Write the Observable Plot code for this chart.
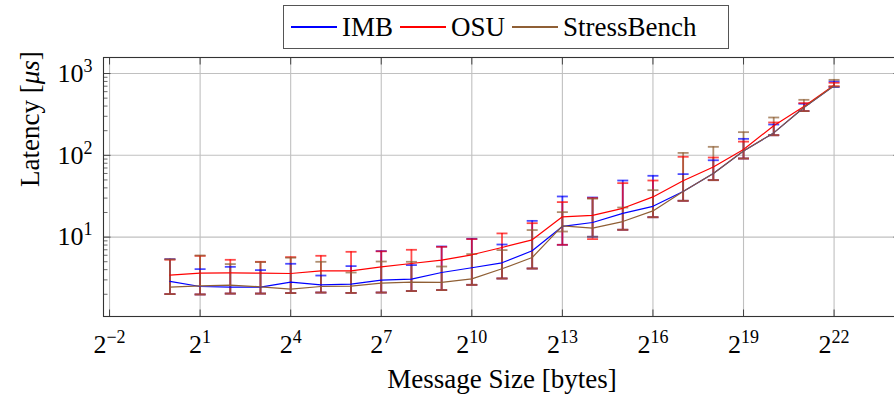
<!DOCTYPE html>
<html>
<head>
<meta charset="utf-8">
<script src="https://cdn.jsdelivr.net/npm/d3@7"></script>
<script src="https://cdn.jsdelivr.net/npm/@observablehq/plot@0.6"></script>
<style>
  html, body { margin: 0; padding: 0; background: #fff; }
  #chart { position: relative; width: 894px; height: 397px; overflow: hidden; font-family: "Liberation Serif", "Times New Roman", serif; }
  #legend { position: absolute; left: 283px; top: 5px; width: 437px; height: 42px; border: 1px solid #555; background: #fff;
            display: flex; align-items: center; padding-left: 7px; box-sizing: content-box; font-size: 27px; color: #000; }
  #legend .sw { width: 46px; height: 1.4px; margin-right: 5px; }
  #legend .lb { margin-right: 7px; white-space: nowrap; }
</style>
</head>
<body>
<div id="chart"><div id="legend"></div></div>
<script>
// ---- data ----
const sizes = [1, 2, 4, 8, 16, 32, 64, 128, 256, 512, 1024, 2048, 4096, 8192, 16384, 32768, 65536, 131072, 262144, 524288, 1048576, 2097152, 4194304];

const imbMean = [2.87, 2.49, 2.45, 2.45, 2.82, 2.61, 2.66, 2.98, 3.07, 3.69, 4.22, 4.85, 6.80, 13.5, 15.1, 19.5, 23.8, 36.1, 60, 113, 188, 384, 707];
const imbLow  = [2.01, 1.99, 2.04, 2.04, 2.07, 2.10, 2.08, 2.10, 2.19, 2.25, 2.61, 3.12, 4.13, 8.05, 10.1, 12.3, 17.5, 27.8, 49.7, 91.4, 176, 347, 682];
const imbHigh = [5.38, 4.06, 4.33, 3.95, 4.72, 3.39, 4.42, 6.74, 4.55, 7.68, 9.53, 8.12, 15.8, 31.4, 30.5, 49.2, 56.2, 58.9, 87, 159, 238, 427, 798];

const osuMean = [3.43, 3.63, 3.66, 3.63, 3.59, 3.86, 3.86, 4.33, 4.76, 5.23, 6.08, 7.46, 9.27, 17.7, 18.4, 22.5, 31.0, 48.8, 72, 118, 230, 395, 720];
const osuLow  = [2.01, 1.99, 2.04, 2.04, 2.07, 2.10, 2.08, 2.10, 2.19, 2.25, 2.61, 3.12, 4.13, 8.05, 9.45, 12.3, 17.5, 27.8, 49.7, 91.4, 176, 347, 700];
const osuHigh = [5.30, 5.90, 5.28, 4.99, 5.69, 5.91, 6.61, 6.70, 7.00, 7.60, 9.45, 11.1, 14.8, 26.8, 30.0, 45.7, 49.2, 95.9, 94, 147, 252, 435, 770];

const sbMean = [2.45, 2.54, 2.59, 2.47, 2.31, 2.49, 2.52, 2.74, 2.82, 2.79, 3.09, 4.10, 5.63, 13.7, 12.9, 15.5, 20.9, 36.1, 60, 113, 188, 384, 707];
const sbLow  = [2.01, 1.99, 2.04, 2.04, 2.07, 2.10, 2.08, 2.10, 2.19, 2.25, 2.61, 3.12, 4.13, 11.7, 10.1, 12.3, 17.5, 27.8, 49.7, 91.4, 176, 347, 690];
const sbHigh = [5.35, 5.96, 4.68, 4.95, 5.60, 4.99, 3.69, 5.03, 4.99, 4.37, 6.20, 6.94, 12.2, 20.2, 29.5, 23.0, 37.5, 107, 127, 192, 290, 477, 837];

const seriesNames = ["IMB", "OSU", "StressBench"];
const seriesColors = ["#0000ff", "#ff0000", "#8f5f35"];

const xTicks = [0.25, 2, 16, 128, 1024, 8192, 65536, 524288, 4194304];
const xTickLabels = ["2^\u22122", "2^1", "2^4", "2^7", "2^10", "2^13", "2^16", "2^19", "2^22"];
const yTicks = [10, 100, 1000];
const yTickLabels = ["10^1", "10^2", "10^3"];
const yMinorTicks = [2, 3, 4, 5, 6, 7, 8, 9, 20, 30, 40, 50, 60, 70, 80, 90, 200, 300, 400, 500, 600, 700, 800, 900];
const xLimits = [0.2176, 19272000];
const yLimits = [1.07, 1570];
const xTitle = "Message Size [bytes]";
const yTitle = "Latency [\u03bcs]";

// ---- table ----
const seriesData = [[imbMean, imbLow, imbHigh], [osuMean, osuLow, osuHigh], [sbMean, sbLow, sbHigh]];
const rows = [];
seriesData.forEach(([m, lo, hi], s) => {
  sizes.forEach((size, j) => rows.push({series: seriesNames[s], size, mean: m[j], low: lo[j], high: hi[j]}));
});

// ---- symbols for caps and inward ticks ----
const capSymbol = {draw(ctx, size) { const w = Math.sqrt(size / Math.PI); ctx.moveTo(-w, 0); ctx.lineTo(w, 0); }};
const mk = (dx, dy) => ({draw(ctx) { ctx.moveTo(0, 0); ctx.lineTo(dx, dy); }});
const tickUp = mk(0, -7), tickDown = mk(0, 7), tickRightMaj = mk(7, 0), tickLeftMaj = mk(-7, 0);
const tickRightMin = mk(4, 0), tickLeftMin = mk(-4, 0);

const fmtX = d => xTickLabels[xTicks.indexOf(d)];
const fmtY = d => yTickLabels[yTicks.indexOf(d)];

const gridColor = "#c0c0c0";
const tickColor = "#444";

const chart = Plot.plot({
  width: 894,
  height: 397,
  marginLeft: 103,
  marginRight: -6,
  marginTop: 57,
  marginBottom: 81,
  style: {fontFamily: "'Liberation Serif', 'Times New Roman', serif", fontSize: "26px", background: "white", color: "black", overflow: "hidden"},
  x: {type: "log", base: 2, domain: xLimits, axis: null},
  y: {type: "log", domain: yLimits, axis: null},
  color: {domain: seriesNames, range: seriesColors},
  marks: [
    Plot.ruleX(xTicks, {stroke: gridColor, strokeWidth: 1.1}),
    Plot.ruleY(yTicks, {stroke: gridColor, strokeWidth: 1.1}),
    Plot.dot(xTicks, {x: d => d, frameAnchor: "bottom", symbol: tickUp, stroke: tickColor, fill: "none", strokeWidth: 1}),
    Plot.dot(xTicks, {x: d => d, frameAnchor: "top", symbol: tickDown, stroke: tickColor, fill: "none", strokeWidth: 1}),
    Plot.dot(yTicks, {y: d => d, frameAnchor: "left", symbol: tickRightMaj, stroke: tickColor, fill: "none", strokeWidth: 1}),
    Plot.dot(yTicks, {y: d => d, frameAnchor: "right", symbol: tickLeftMaj, stroke: tickColor, fill: "none", strokeWidth: 1}),
    Plot.dot(yMinorTicks, {y: d => d, frameAnchor: "left", symbol: tickRightMin, stroke: tickColor, fill: "none", strokeWidth: 0.8}),
    Plot.dot(yMinorTicks, {y: d => d, frameAnchor: "right", symbol: tickLeftMin, stroke: tickColor, fill: "none", strokeWidth: 0.8}),
    Plot.frame({stroke: "#333", strokeWidth: 1.1}),
    // error bars
    Plot.ruleX(rows, {x: "size", y1: "low", y2: "high", stroke: "series", strokeWidth: 1.8, strokeOpacity: 0.7}),
    Plot.dot(rows, {x: "size", y: "high", symbol: capSymbol, r: 5.5, stroke: "series", fill: "none", strokeWidth: 1.8, strokeOpacity: 0.7}),
    Plot.dot(rows, {x: "size", y: "low", symbol: capSymbol, r: 5.5, stroke: "series", fill: "none", strokeWidth: 1.8, strokeOpacity: 0.7}),
    // lines
    Plot.line(rows, {x: "size", y: "mean", z: "series", stroke: "series", strokeWidth: 1.2}),
    // axes
    Plot.axisX({ticks: xTicks, tickFormat: fmtX, tickSize: 0, tickPadding: 18, label: null, fontSize: 26}),
    Plot.axisY({ticks: yTicks, tickFormat: fmtY, tickSize: 0, tickPadding: 11, label: null, fontSize: 26}),
    Plot.text([xTitle], {frameAnchor: "bottom", dy: 71, fontSize: 27}),
    Plot.text([yTitle], {frameAnchor: "left", dx: -73, rotate: -90, fontSize: 27})
  ]
});

// superscripts and italics as real text
const NS = "http://www.w3.org/2000/svg";
chart.querySelectorAll("text").forEach(t => {
  const s = t.textContent;
  if (s.includes("^")) {
    const [base, sup] = s.split("^");
    t.textContent = "";
    t.appendChild(document.createTextNode(base));
    const ts = document.createElementNS(NS, "tspan");
    ts.setAttribute("dy", "-10");
    ts.setAttribute("font-size", "18px");
    ts.textContent = sup;
    t.appendChild(ts);
  } else if (s === yTitle) {
    t.textContent = "";
    t.appendChild(document.createTextNode("Latency ["));
    const it = document.createElementNS(NS, "tspan");
    it.setAttribute("font-style", "italic");
    it.textContent = "\u03bcs";
    t.appendChild(it);
    t.appendChild(document.createTextNode("]"));
  }
});

const holder = document.getElementById("chart");
holder.insertBefore(chart, holder.firstChild);
chart.style.position = "absolute";
chart.style.left = "0";
chart.style.top = "0";

// legend
const legend = document.getElementById("legend");
seriesNames.forEach((name, i) => {
  const sw = document.createElement("span");
  sw.className = "sw";
  sw.style.backgroundColor = seriesColors[i];
  const lb = document.createElement("span");
  lb.className = "lb";
  lb.textContent = name;
  legend.appendChild(sw);
  legend.appendChild(lb);
});
</script>
</body>
</html>
